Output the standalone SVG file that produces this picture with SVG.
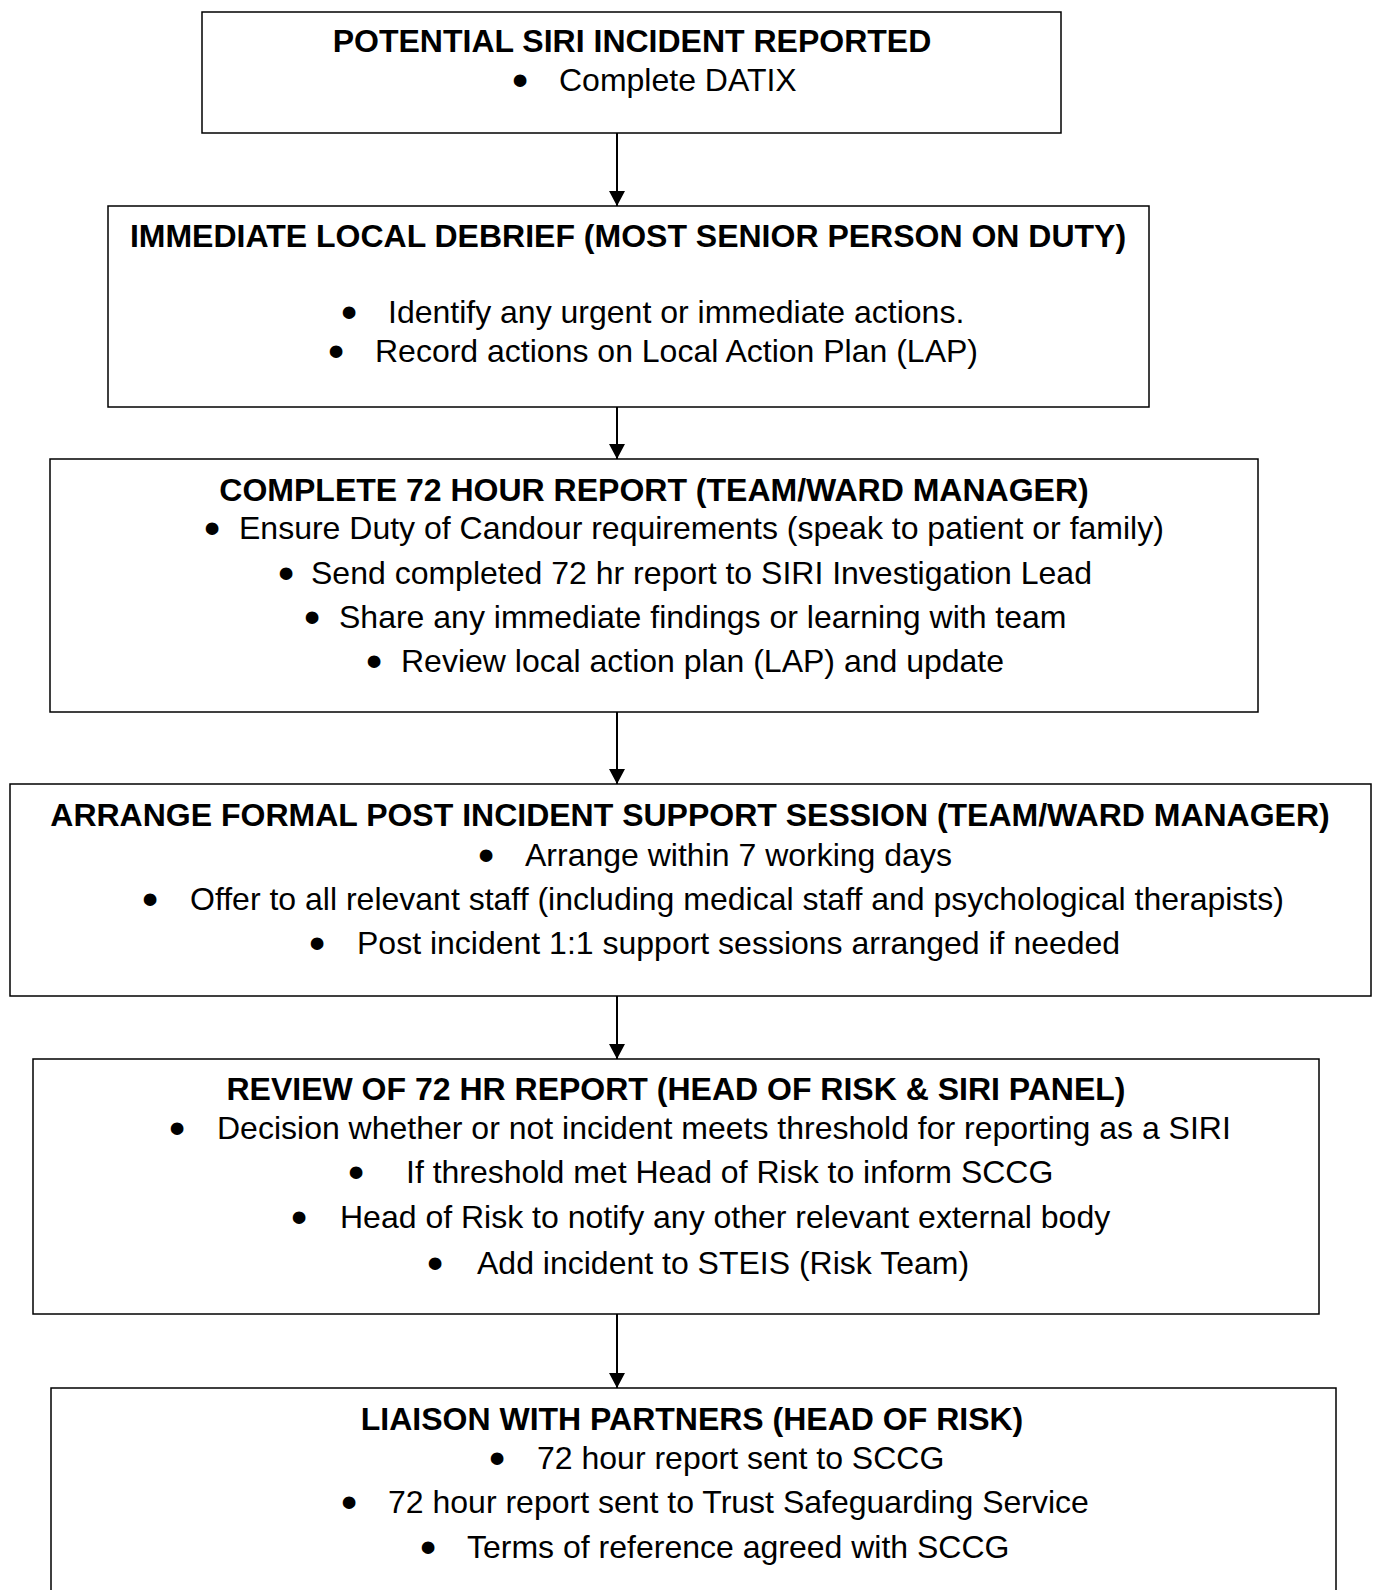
<svg xmlns="http://www.w3.org/2000/svg" width="1373" height="1590" viewBox="0 0 1373 1590">
<style>
.box{fill:#fff;stroke:#000;stroke-width:1.5}
.t{font-family:"Liberation Sans",Arial,sans-serif;font-size:32px;fill:#000}
.b{stroke:#000;stroke-width:4;stroke-linejoin:round}
.h{font-weight:bold;text-anchor:middle}
.c{stroke:#000;stroke-width:2;fill:none}
</style>
<defs>
<marker id="ah" viewBox="0 0 15 16" refX="15" refY="8" markerWidth="15" markerHeight="16" markerUnits="userSpaceOnUse" orient="auto">
<path d="M0,0 L15,8 L0,16 Z" fill="#000"/>
</marker>
</defs>
<rect width="1373" height="1590" fill="#fff"/>
<g id="connectors">
<line class="c" x1="617" y1="133" x2="617" y2="206" marker-end="url(#ah)"/>
<line class="c" x1="617" y1="407" x2="617" y2="459" marker-end="url(#ah)"/>
<line class="c" x1="617" y1="712" x2="617" y2="784" marker-end="url(#ah)"/>
<line class="c" x1="617" y1="996" x2="617" y2="1059" marker-end="url(#ah)"/>
<line class="c" x1="617" y1="1314" x2="617" y2="1388" marker-end="url(#ah)"/>
</g>
<g id="node1">
<rect class="box" x="202" y="12" width="859" height="121"/>
<text class="t h" x="632" y="52">POTENTIAL SIRI INCIDENT REPORTED</text>
<text class="t b" x="514.4" y="91">•</text><text class="t" x="559" y="91">Complete DATIX</text>
</g>
<g id="node2">
<rect class="box" x="108" y="206" width="1041" height="201"/>
<text class="t h" x="628" y="247">IMMEDIATE LOCAL DEBRIEF (MOST SENIOR PERSON ON DUTY)</text>
<text class="t b" x="343.4" y="323">•</text><text class="t" x="388" y="323">Identify any urgent or immediate actions.</text>
<text class="t b" x="330.4" y="362">•</text><text class="t" x="375" y="362">Record actions on Local Action Plan (LAP)</text>
</g>
<g id="node3">
<rect class="box" x="50" y="459" width="1208" height="253"/>
<text class="t h" x="654" y="501">COMPLETE 72 HOUR REPORT (TEAM/WARD MANAGER)</text>
<text class="t b" x="206.4" y="539">•</text><text class="t" x="239" y="539">Ensure Duty of Candour requirements (speak to patient or family)</text>
<text class="t b" x="280.4" y="584">•</text><text class="t" x="311" y="584">Send completed 72 hr report to SIRI Investigation Lead</text>
<text class="t b" x="306.4" y="628">•</text><text class="t" x="339" y="628">Share any immediate findings or learning with team</text>
<text class="t b" x="368.4" y="672">•</text><text class="t" x="401" y="672">Review local action plan (LAP) and update</text>
</g>
<g id="node4">
<rect class="box" x="10" y="784" width="1361" height="212"/>
<text class="t h" x="690" y="826">ARRANGE FORMAL POST INCIDENT SUPPORT SESSION (TEAM/WARD MANAGER)</text>
<text class="t b" x="480.4" y="866">•</text><text class="t" x="525" y="866">Arrange within 7 working days</text>
<text class="t b" x="144.4" y="910">•</text><text class="t" x="190" y="910">Offer to all relevant staff (including medical staff and psychological therapists)</text>
<text class="t b" x="311.4" y="954">•</text><text class="t" x="357" y="954">Post incident 1:1 support sessions arranged if needed</text>
</g>
<g id="node5">
<rect class="box" x="33" y="1059" width="1286" height="255"/>
<text class="t h" x="676" y="1100">REVIEW OF 72 HR REPORT (HEAD OF RISK &amp; SIRI PANEL)</text>
<text class="t b" x="171.4" y="1139">•</text><text class="t" x="217" y="1139">Decision whether or not incident meets threshold for reporting as a SIRI</text>
<text class="t b" x="350.4" y="1183">•</text><text class="t" x="406" y="1183">If threshold met Head of Risk to inform SCCG</text>
<text class="t b" x="293.4" y="1228">•</text><text class="t" x="340" y="1228">Head of Risk to notify any other relevant external body</text>
<text class="t b" x="429.4" y="1274">•</text><text class="t" x="477" y="1274">Add incident to STEIS (Risk Team)</text>
</g>
<g id="node6">
<rect class="box" x="51" y="1388" width="1285" height="220"/>
<text class="t h" x="692" y="1430">LIAISON WITH PARTNERS (HEAD OF RISK)</text>
<text class="t b" x="491.4" y="1469">•</text><text class="t" x="537" y="1469">72 hour report sent to SCCG</text>
<text class="t b" x="343.4" y="1513">•</text><text class="t" x="388" y="1513">72 hour report sent to Trust Safeguarding Service</text>
<text class="t b" x="422.4" y="1558">•</text><text class="t" x="467" y="1558">Terms of reference agreed with SCCG</text>
</g>
</svg>
